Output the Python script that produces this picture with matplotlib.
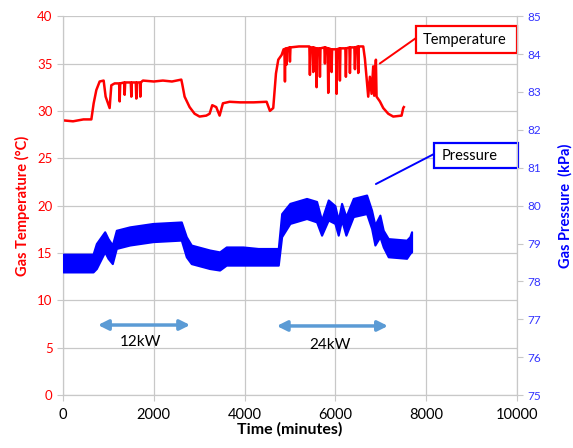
import numpy as np
import matplotlib.pyplot as plt
from matplotlib.patches import Rectangle

plt.rcParams['font.family'] = ['Lato', 'DejaVu Sans']

# temperature trace (time in minutes, gas temperature in C)
temp_time = [0, 220, 450, 624, 675, 734, 807, 895, 939, 1027, 1064, 1137,
             1236, 1248, 1260, 1346, 1358, 1370, 1493, 1505, 1517, 1603, 1615, 1627,
             1691, 1703, 1715, 1760, 2000, 2200, 2400, 2606, 2628, 2679, 2789, 2899,
             3009, 3156, 3230, 3288, 3376, 3450, 3523, 3670, 3899, 4200, 4486, 4559,
             4632, 4692, 4743, 4817, 4860, 4878, 4890, 4902, 4915, 4927, 4939, 4988,
             5000, 5012, 5200, 5428, 5440, 5452, 5502, 5514, 5526, 5575, 5587, 5599,
             5649, 5661, 5673, 5759, 5771, 5783, 5832, 5844, 5856, 5906, 5918, 5930,
             6016, 6028, 6040, 6089, 6101, 6113, 6221, 6233, 6245, 6310, 6322, 6334,
             6420, 6432, 6444, 6493, 6505, 6517, 6615, 6652, 6725, 6762, 6799, 6835,
             6857, 6894, 6909, 6982, 7056, 7166, 7276, 7460, 7496, 7510]
temp_val = [29.0, 28.9, 29.1, 29.1, 30.8, 32.2, 33.1, 33.2, 31.5, 30.3, 32.7, 32.9,
            32.9, 31.0, 32.9, 33.0, 31.7, 33.0, 33.0, 31.5, 33.0, 33.0, 31.3, 33.0,
            33.0, 31.5, 33.0, 33.2, 33.1, 33.2, 33.1, 33.3, 32.8, 31.5, 30.4, 29.7,
            29.4, 29.5, 29.7, 30.6, 30.4, 29.5, 30.8, 30.96, 30.9, 30.9, 30.96, 30.0,
            30.3, 33.95, 35.4, 35.9, 36.5, 36.5, 33.1, 36.6, 36.6, 34.9, 36.6, 36.7,
            35.2, 36.7, 36.8, 36.8, 33.8, 36.7, 36.7, 34.1, 36.7, 36.6, 32.5, 36.6,
            36.6, 33.6, 36.6, 36.7, 35.0, 36.7, 36.6, 31.9, 36.6, 36.5, 34.1, 36.5,
            36.5, 31.8, 36.5, 36.6, 33.2, 36.6, 36.6, 33.6, 36.6, 36.7, 34.0, 36.7,
            36.7, 34.4, 36.7, 36.8, 34.0, 36.8, 36.8, 35.5, 31.5, 33.6, 31.8, 34.7,
            31.6, 35.4, 31.5, 31.0, 30.3, 29.7, 29.4, 29.5, 30.3, 30.4]

# pressure trace is a noisy band: lower / upper envelope in kPa
pres_time = [0, 661, 734, 918, 991, 1086, 1174, 1468, 1982, 2606, 2716, 2826,
             3230, 3450, 3597, 3964, 4300, 4743, 4817, 4999, 5366, 5587, 5697,
             5844, 5991, 6064, 6138, 6233, 6395, 6689, 6799, 6872, 6982, 7056,
             7166, 7570, 7643, 7680]
pres_low = [78.25, 78.25, 78.34, 78.78, 78.61, 78.47, 78.87, 78.96, 79.05, 79.09,
            78.65, 78.47, 78.34, 78.30, 78.43, 78.43, 78.43, 78.43, 79.18, 79.53,
            79.66, 79.57, 79.22, 79.62, 79.53, 79.22, 79.62, 79.22, 79.71, 79.79,
            79.40, 78.96, 79.18, 78.91, 78.65, 78.61, 78.74, 78.78]
pres_high = [78.72, 78.72, 79.00, 79.31, 79.13, 78.96, 79.35, 79.44, 79.53, 79.57,
             79.18, 78.96, 78.83, 78.78, 78.91, 78.91, 78.87, 78.87, 79.79, 80.06,
             80.19, 80.11, 79.62, 80.15, 80.00, 79.62, 80.06, 79.71, 80.19, 80.28,
             79.88, 79.49, 79.75, 79.35, 79.13, 79.09, 79.18, 79.31]

grid_c = '#c8c8c8'
red = '#ff0000'
blue = '#0000ff'
arrow_c = '#5b9bd5'

fig = plt.figure(figsize=(5.73, 4.48), dpi=100)
ax = fig.add_axes([0.110, 0.118, 0.792, 0.846])
ax2 = ax.twinx()

ax.plot(temp_time, temp_val, color=red, lw=1.8, zorder=3)
ax2.fill_between(pres_time, pres_low, pres_high, color=blue, lw=1.5,
                 edgecolor=blue, zorder=3)

ax.set_xlim(0, 10000)
ax.set_ylim(0, 40)
ax2.set_ylim(75, 85)
ax.set_xticks(np.arange(0, 10001, 2000))
ax.set_yticks(np.arange(0, 41, 5))
ax2.set_yticks(np.arange(75, 86, 1))

ax.grid(True, color=grid_c, lw=0.9)
ax.set_axisbelow(True)
for a in (ax, ax2):
    for s in a.spines.values():
        s.set_color(grid_c)
    a.spines['top'].set_visible(False)

ax.tick_params(axis='x', colors=grid_c, labelcolor='black', labelsize=10.5, length=4, pad=5)
ax.tick_params(axis='y', colors=grid_c, labelcolor=red, labelsize=9.5, length=4)
ax2.tick_params(axis='y', colors=grid_c, labelcolor='#3333ff', labelsize=8.5, length=4)

ax.set_xlabel('Time (minutes)', fontsize=11.5, fontweight='bold', labelpad=0)
ax.set_ylabel('Gas Temperature (°C)', fontsize=10.5, fontweight='bold', color=red, labelpad=5)
ax2.set_ylabel('Gas Pressure  (kPa)', fontsize=10.5, fontweight='bold', color=blue,
               rotation=90, labelpad=12)

# power level arrows
ax.annotate('', xy=(770, 7.4), xytext=(2800, 7.4),
            arrowprops=dict(arrowstyle='<|-|>', color=arrow_c, lw=2.5, mutation_scale=15,
                            shrinkA=0, shrinkB=0))
ax.text(1700, 5.6, '12kW', ha='center', va='center', fontsize=11)
ax.annotate('', xy=(4710, 7.3), xytext=(7160, 7.3),
            arrowprops=dict(arrowstyle='<|-|>', color=arrow_c, lw=2.5, mutation_scale=15,
                            shrinkA=0, shrinkB=0))
ax.text(5880, 5.3, '24kW', ha='center', va='center', fontsize=11)

# callout boxes
ax.add_patch(Rectangle((0.7775, 0.9024), 0.2225, 0.0712, transform=ax.transAxes,
                       fc='white', ec=red, lw=1.6, zorder=5, clip_on=False))
ax.text(0.793, 0.938, 'Temperature', transform=ax.transAxes, ha='left', va='center',
        fontsize=10.5, zorder=6)
ax.annotate('', xy=(6980, 35.0), xytext=(0.7775, 0.942), textcoords='axes fraction',
            arrowprops=dict(arrowstyle='-', color=red, lw=1.4, shrinkA=0, shrinkB=0))

ax.add_patch(Rectangle((0.817, 0.599), 0.185, 0.066, transform=ax.transAxes,
                       fc='white', ec=blue, lw=1.6, zorder=5, clip_on=False))
ax.text(0.835, 0.632, 'Pressure', transform=ax.transAxes, ha='left', va='center',
        fontsize=10.5, zorder=6)
ax2.annotate('', xy=(6894, 80.57), xytext=(0.817, 0.636), textcoords='axes fraction',
             arrowprops=dict(arrowstyle='-', color=blue, lw=1.4, shrinkA=0, shrinkB=0))

fig.savefig('out.png', dpi=100)
